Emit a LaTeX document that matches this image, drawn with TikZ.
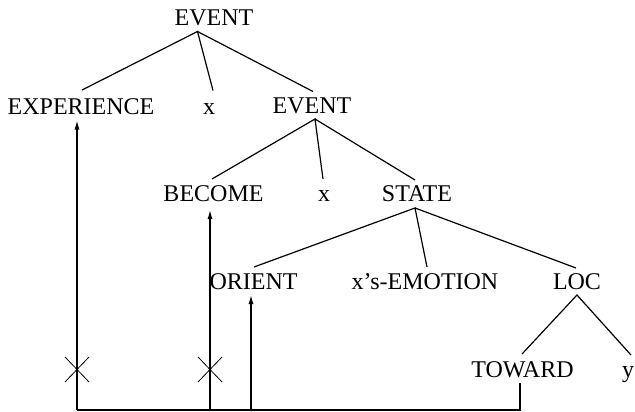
\documentclass[tikz,border=0pt]{standalone}
\usepackage{fontspec}
\setmainfont{Liberation Serif}
\usetikzlibrary{arrows.meta}
\begin{document}
\begin{tikzpicture}[x=1pt,y=-1pt,
  lbl/.style={anchor=base,inner sep=0pt,font=\fontsize{24}{28}\selectfont},
  branch/.style={line width=1.2pt},
  link/.style={line width=1.2pt},
  uparrow/.style={link,-{Latex[length=9pt,width=5pt]}},
  cross/.style={line width=0.8pt}]
\useasboundingbox (0,0) rectangle (635,412);

% tree labels (positioned at their baselines)
\node[lbl] (ev1) at (214,26)    {EVENT};
\node[lbl] (exp) at (81,114)    {EXPERIENCE};
\node[lbl] (x1)  at (209,114)   {x};
\node[lbl] (ev2) at (312,113.5) {EVENT};
\node[lbl] (bec) at (213.5,201) {BECOME};
\node[lbl] (x2)  at (324,201)   {x};
\node[lbl] (st)  at (417,201)   {STATE};
\node[lbl] (ori) at (253.5,289) {ORIENT};
\node[lbl] (emo) at (425,289)   {x's-EMOTION};
\node[lbl] (loc) at (577,289)   {LOC};
\node[lbl] (tow) at (522.5,377) {TOWARD};
\node[lbl] (yy)  at (628,377)   {y};

% attachment points of the branches
\coordinate (ev1b) at (197.5,31.5);
\coordinate (expt) at (82,90);
\coordinate (x1t)  at (213,90.5);
\coordinate (ev2t) at (313,91.5);
\coordinate (ev2b) at (315,119);
\coordinate (bect) at (212,179);
\coordinate (x2t)  at (323,179);
\coordinate (stt)  at (415,180);
\coordinate (stb)  at (415,208);
\coordinate (orit) at (254,267);
\coordinate (emot) at (427,267);
\coordinate (loct) at (576,268);
\coordinate (locb) at (577,295);
\coordinate (towt) at (522,354);
\coordinate (yyt)  at (631,355);

% branches
\draw[branch] (expt) -- (ev1b) -- (x1t);
\draw[branch] (ev1b) -- (ev2t);
\draw[branch] (bect) -- (ev2b) -- (x2t);
\draw[branch] (ev2b) -- (stt);
\draw[branch] (orit) -- (stb) -- (emot);
\draw[branch] (stb) -- (loct);
\draw[branch] (towt) -- (locb) -- (yyt);

% linking lines below the tree
\coordinate (towb) at (520,383);
\coordinate (corR) at (520,410);
\coordinate (corL) at (77,410);
\coordinate (expA) at (77,120.5);
\coordinate (becF) at (210,410);
\coordinate (becA) at (210,210);
\coordinate (oriF) at (251,410);
\coordinate (oriA) at (251,295);

\draw[link] (towb) -- (corR) -- (corL);
\draw[uparrow] (corL) -- (expA);
\draw[uparrow] (becF) -- (becA);
\draw[uparrow] (oriF) -- (oriA);

% crossed-out links
\foreach \c in {77,210}{
  \draw[cross] (\c-12,357) -- (\c+12,382);
  \draw[cross] (\c-12,382) -- (\c+12,357);
}
\end{tikzpicture}
\end{document}
